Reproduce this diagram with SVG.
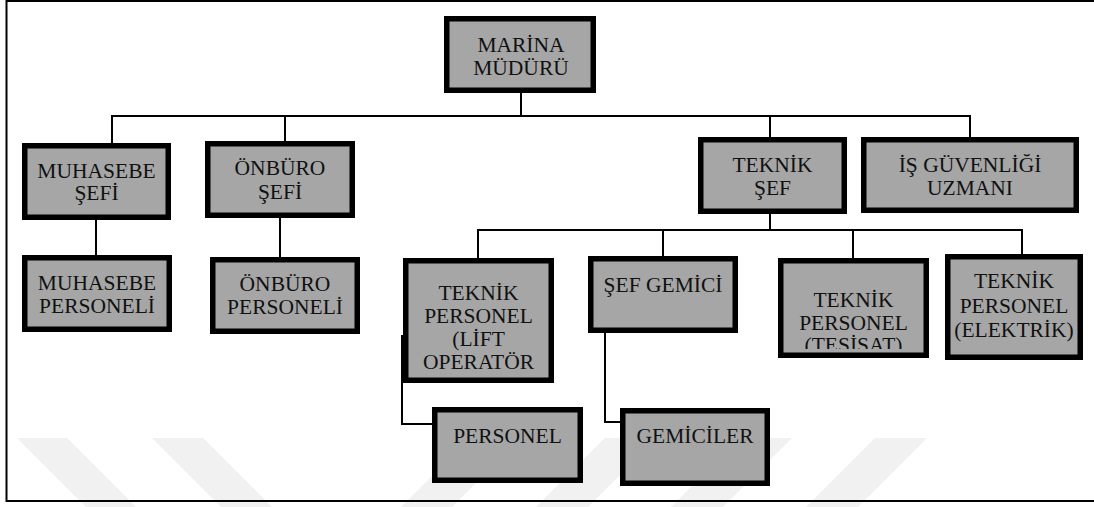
<svg xmlns="http://www.w3.org/2000/svg" width="1094" height="507" viewBox="0 0 1094 507">
  <style>
    .box { fill: #a6a6a6; stroke: #000; stroke-width: 5.5; }
    .lbl { font-family: "Liberation Serif", "Times New Roman", serif; font-size: 21.5px; fill: #111; text-anchor: middle; }
    .conn { stroke: #000; stroke-width: 2; fill: none; }
    .wm { fill: #f1f1f1; }
  </style>
  <defs>
    <clipPath id="clipTes">
      <rect x="780" y="260" width="146" height="89"/>
    </clipPath>
  </defs>
  <rect x="0" y="0" width="1094" height="507" fill="#fff"/>
  <g id="watermark">
    <polygon class="wm" points="17,438 67,438 136,507 86,507"/>
    <polygon class="wm" points="152,438 203,438 272,507 221,507"/>
    <polygon class="wm" points="470,438 521,438 452,507 401,507"/>
    <polygon class="wm" points="605,438 657,438 588,507 536,507"/>
    <polygon class="wm" points="740,438 792,438 723,507 671,507"/>
    <polygon class="wm" points="875,438 927,438 858,507 806,507"/>
  </g>
  <g id="frame">
    <polyline class="conn" points="1094,1 6.5,1 6.5,501 1094,501"/>
  </g>
  <g id="connectors">
    <line class="conn" x1="521" y1="93" x2="521" y2="116"/>
    <line class="conn" x1="111" y1="116" x2="971" y2="116"/>
    <line class="conn" x1="112" y1="116" x2="112" y2="143"/>
    <line class="conn" x1="285" y1="116" x2="285" y2="141"/>
    <line class="conn" x1="770" y1="116" x2="770" y2="137"/>
    <line class="conn" x1="970" y1="116" x2="970" y2="137"/>
    <line class="conn" x1="96" y1="220" x2="96" y2="255"/>
    <line class="conn" x1="280" y1="218" x2="280" y2="257"/>
    <line class="conn" x1="770" y1="214" x2="770" y2="230"/>
    <line class="conn" x1="477" y1="230" x2="1023" y2="230"/>
    <line class="conn" x1="478" y1="230" x2="478" y2="258"/>
    <line class="conn" x1="663" y1="230" x2="663" y2="256"/>
    <line class="conn" x1="853" y1="230" x2="853" y2="258"/>
    <line class="conn" x1="1022" y1="230" x2="1022" y2="254"/>
    <polyline class="conn" points="402,335 402,424 432,424"/>
    <polyline class="conn" points="605,333 605,422 620,422"/>
  </g>
  <g id="marina-muduru">
    <rect class="box" x="446.75" y="18.75" width="146.5" height="71.5"/>
    <text class="lbl" x="521" y="52">MARİNA</text>
    <text class="lbl" x="521" y="75">MÜDÜRÜ</text>
  </g>
  <g id="muhasebe-sefi">
    <rect class="box" x="24.75" y="145.75" width="143.5" height="71.5"/>
    <text class="lbl" x="96.5" y="178">MUHASEBE</text>
    <text class="lbl" x="96.5" y="200">ŞEFİ</text>
  </g>
  <g id="onburo-sefi">
    <rect class="box" x="207.75" y="143.75" width="144.5" height="71.5"/>
    <text class="lbl" x="280" y="175">ÖNBÜRO</text>
    <text class="lbl" x="280" y="199">ŞEFİ</text>
  </g>
  <g id="teknik-sef">
    <rect class="box" x="700.75" y="139.75" width="143.5" height="71.5"/>
    <text class="lbl" x="772.5" y="172">TEKNİK</text>
    <text class="lbl" x="772.5" y="195">ŞEF</text>
  </g>
  <g id="is-guvenligi-uzmani">
    <rect class="box" x="863.75" y="139.75" width="212.5" height="70.5"/>
    <text class="lbl" x="970" y="172">İŞ GÜVENLİĞİ</text>
    <text class="lbl" x="970" y="195">UZMANI</text>
  </g>
  <g id="muhasebe-personeli">
    <rect class="box" x="24.75" y="257.75" width="144.5" height="71.5"/>
    <text class="lbl" x="97" y="290">MUHASEBE</text>
    <text class="lbl" x="97" y="313">PERSONELİ</text>
  </g>
  <g id="onburo-personeli">
    <rect class="box" x="212.75" y="259.75" width="144.5" height="71.5"/>
    <text class="lbl" x="285" y="291">ÖNBÜRO</text>
    <text class="lbl" x="285" y="314">PERSONELİ</text>
  </g>
  <g id="teknik-personel-lift">
    <rect class="box" x="405.75" y="260.75" width="145.5" height="119.5"/>
    <text class="lbl" x="478.5" y="300">TEKNİK</text>
    <text class="lbl" x="478.5" y="323">PERSONEL</text>
    <text class="lbl" x="478.5" y="346">(LİFT</text>
    <text class="lbl" x="478.5" y="369">OPERATÖR</text>
  </g>
  <g id="sef-gemici">
    <rect class="box" x="590.75" y="258.75" width="144.5" height="71.5"/>
    <text class="lbl" x="663" y="292">ŞEF GEMİCİ</text>
  </g>
  <g id="teknik-personel-tesisat">
    <rect class="box" x="780.75" y="260.75" width="145.5" height="94.5"/>
    <text class="lbl" x="853.5" y="307">TEKNİK</text>
    <text class="lbl" x="853.5" y="330">PERSONEL</text>
    <text class="lbl" x="853.5" y="352" clip-path="url(#clipTes)">(TESİSAT)</text>
  </g>
  <g id="teknik-personel-elektrik">
    <rect class="box" x="947.75" y="256.75" width="132.5" height="100.5"/>
    <text class="lbl" x="1014" y="288">TEKNİK</text>
    <text class="lbl" x="1014" y="313">PERSONEL</text>
    <text class="lbl" x="1014" y="337">(ELEKTRİK)</text>
  </g>
  <g id="personel">
    <rect class="box" x="434.75" y="409.75" width="145.5" height="70.5"/>
    <text class="lbl" x="507.5" y="443">PERSONEL</text>
  </g>
  <g id="gemiciler">
    <rect class="box" x="622.75" y="410.75" width="144.5" height="72.5"/>
    <text class="lbl" x="695" y="443">GEMİCİLER</text>
  </g>
</svg>
